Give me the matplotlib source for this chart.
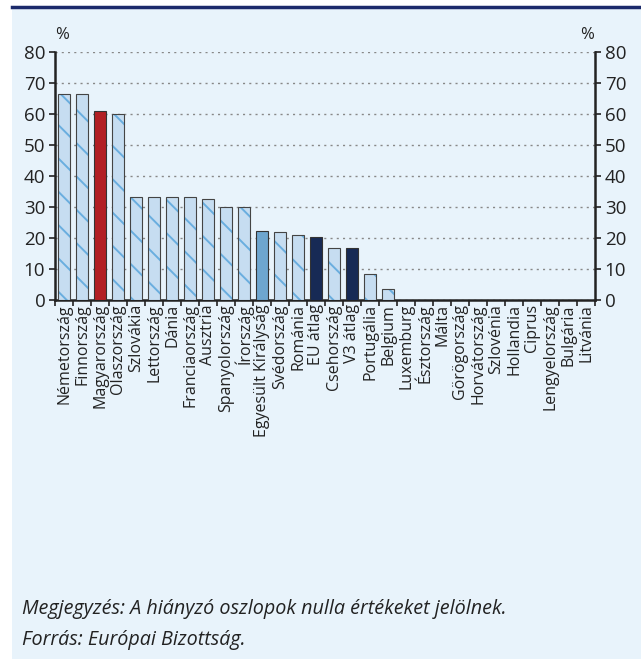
import numpy as np
import matplotlib.pyplot as plt

plt.rcParams["font.family"] = ["Open Sans", "DejaVu Sans"]
plt.rcParams["hatch.linewidth"] = 1.4

countries = ["Németország", "Finnország", "Magyarország", "Olaszország", "Szlovákia",
             "Lettország", "Dánia", "Franciaország", "Ausztria", "Spanyolország",
             "Írország", "Egyesült Királyság", "Svédország", "Románia", "EU átlag",
             "Csehország", "V3 átlag", "Portugália", "Belgium", "Luxemburg",
             "Észtország", "Málta", "Görögország", "Horvátország", "Szlovénia",
             "Hollandia", "Ciprus", "Lengyelország", "Bulgária", "Litvánia"]
values = [66.5, 66.5, 61.0, 60.0, 33.3, 33.3, 33.3, 33.3, 32.5, 30.0,
          30.0, 22.3, 22.0, 21.0, 20.4, 16.7, 16.7, 8.5, 3.4, 0,
          0, 0, 0, 0, 0, 0, 0, 0, 0, 0]
special = {"Magyarország": "#b21f24", "Egyesült Királyság": "#6ea6cf",
           "EU átlag": "#172a55", "V3 átlag": "#172a55"}

bg = "#e8f3fb"
fig = plt.figure(figsize=(6.41, 6.59), dpi=100)
fig.patch.set_facecolor("white")

# background panel
bgax = fig.add_axes([12 / 641, 0, 1 - 12 / 641, 1 - 8 / 659], zorder=-10)
bgax.set_facecolor(bg)
bgax.set_xticks([])
bgax.set_yticks([])
for s in bgax.spines.values():
    s.set_visible(False)
fig.add_artist(plt.Line2D([12 / 641, 1], [1 - 7 / 659, 1 - 7 / 659],
                          transform=fig.transFigure, color="#1b2a6b", lw=2.5))

ax = fig.add_axes([55 / 641, 1 - 300 / 659, 540 / 641, 248 / 659])
ax.set_facecolor(bg)
x = np.arange(len(countries))
w = 0.62
for xi, name, v in zip(x, countries, values):
    if v == 0:
        continue
    if name in special:
        ax.bar(xi, v, width=w, color=special[name], edgecolor="#333333",
               linewidth=0.8, zorder=3)
    else:
        ax.bar(xi, v, width=w, color="#c6ddf1", edgecolor="#6aaedf",
               hatch="\\", linewidth=0, zorder=3)
        ax.bar(xi, v, width=w, color="none", edgecolor="#444444",
               linewidth=0.8, zorder=4)

ax.set_xlim(-0.5, len(countries) - 0.5)
ax.set_ylim(0, 80)
ax.set_yticks(range(0, 81, 10))
ax.set_xticks(x)
ax.set_xticklabels(countries, rotation=90, fontsize=11.5, color="#222222")
ax.set_xticks(np.arange(-0.5, len(countries), 1), minor=True)
ax.tick_params(axis="x", which="major", length=0, pad=3)
ax.tick_params(axis="x", which="minor", length=4, width=1.2, color="#222222")
ax.tick_params(axis="y", labelsize=13.5, length=4, width=1.2, color="#222222",
               labelcolor="#222222", right=True, labelright=True, pad=3)
ax.grid(axis="y", linestyle=(0, (1.5, 3)), color="#888888", linewidth=1, zorder=1)
ax.spines["top"].set_visible(False)
for s in ["left", "right", "bottom"]:
    ax.spines[s].set_linewidth(1.8)
    ax.spines[s].set_color("#222222")

fig.text(55 / 641, 1 - 39 / 659, "%", fontsize=12, color="#222222", ha="left")
fig.text(594 / 641, 1 - 39 / 659, "%", fontsize=12, color="#222222", ha="right")

fig.text(22 / 641, 1 - 614 / 659,
         "Megjegyzés: A hiányzó oszlopok nulla értékeket jelölnek.",
         fontsize=14.2, style="italic", color="#222222")
fig.text(22 / 641, 1 - 645 / 659, "Forrás: Európai Bizottság.",
         fontsize=14.2, style="italic", color="#222222")

fig.savefig("out.png", dpi=100, facecolor=fig.get_facecolor())
